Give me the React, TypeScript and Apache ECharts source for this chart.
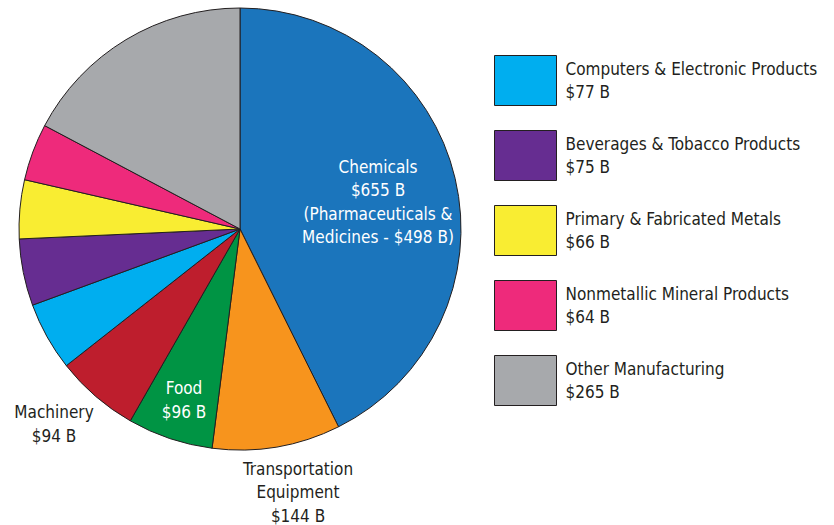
import React, { useEffect, useRef } from "react";
import * as echarts from "echarts";

const categories = [
  "Chemicals",
  "Transportation Equipment",
  "Food",
  "Machinery",
  "Computers & Electronic Products",
  "Beverages & Tobacco Products",
  "Primary & Fabricated Metals",
  "Nonmetallic Mineral Products",
  "Other Manufacturing",
];
const values = [655, 144, 96, 94, 77, 75, 66, 64, 265];
const colors = [
  "#1b75bc",
  "#f7941d",
  "#009444",
  "#be1e2d",
  "#00aeef",
  "#662d91",
  "#f9ed32",
  "#ee2a7b",
  "#a7a9ac",
];
const legendNames = [
  "Computers & Electronic Products",
  "Beverages & Tobacco Products",
  "Primary & Fabricated Metals",
  "Nonmetallic Mineral Products",
  "Other Manufacturing",
];
const chemLabel = ["Chemicals", "$655 B", "(Pharmaceuticals &", "Medicines - $498 B)"];
const foodLabel = ["Food", "$96 B"];
const machLabel = ["Machinery", "$94 B"];
const transLabel = ["Transportation", "Equipment", "$144 B"];

const FONT = "'Liberation Sans Narrow', 'DejaVu Sans Condensed', 'Roboto Condensed', sans-serif";

export default function App() {
  const ref = useRef<HTMLDivElement>(null);
  useEffect(() => {
    const chart = echarts.init(ref.current!, null, { renderer: "svg" });
    const valOf = (n: string) => values[categories.indexOf(n)];
    const txt = (lines: string[], x: number, y: number, fill: string) => ({
      type: "text",
      x,
      y,
      z: 100,
      zlevel: 0,
      style: {
        text: lines.join("\n"),
        fill,
        font: `17px ${FONT}`,
        align: "center",
        verticalAlign: "middle",
        lineHeight: 23.5,
      },
    });
    chart.setOption({
      animation: false,
      backgroundColor: "#ffffff",
      legend: {
        data: legendNames,
        orient: "vertical",
        left: 494,
        top: 55,
        padding: 0,
        itemWidth: 62,
        itemHeight: 50,
        itemGap: 24,
        icon: "rect",
        selectedMode: false,
        itemStyle: { borderColor: "#231f20", borderWidth: 1 },
        textStyle: {
          fontFamily: FONT,
          fontSize: 17,
          color: "#231f20",
          lineHeight: 23.5,
          padding: [0, 0, 0, 4],
        },
        formatter: (n: string) => `${n}\n$${valOf(n)} B`,
      },
      series: [
        {
          type: "pie",
          z: 1,
          center: [240, 229],
          radius: 221,
          startAngle: 90,
          clockwise: true,
          label: { show: false },
          labelLine: { show: false },
          emphasis: { disabled: true },
          itemStyle: { borderColor: "#231f20", borderWidth: 1 },
          data: categories.map((c, i) => ({
            name: c,
            value: values[i],
            itemStyle: { color: colors[i] },
          })),
        },
      ],
      graphic: {
        elements: [
          txt(chemLabel, 378, 202, "#ffffff"),
          txt(foodLabel, 184, 400, "#ffffff"),
          txt(machLabel, 54, 424, "#231f20"),
          txt(transLabel, 298, 492, "#231f20"),
        ],
      },
    });
    return () => chart.dispose();
  }, []);
  return (
    <div
      ref={ref}
      style={{ position: "fixed", left: 0, top: 0, width: 834, height: 525 }}
    />
  );
}
